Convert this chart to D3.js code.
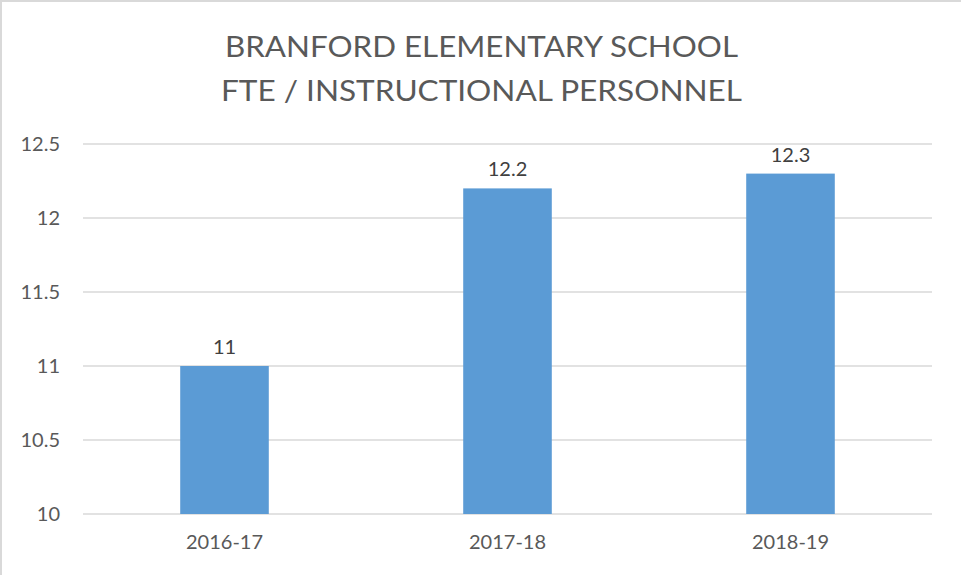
<!DOCTYPE html>
<html>
<head>
<meta charset="utf-8">
<script src="https://cdn.jsdelivr.net/npm/d3@7"></script>
<style>
  html, body { margin: 0; padding: 0; background: #fff; overflow: hidden; }
  svg { display: block; font-family: "Lato", "Open Sans", sans-serif; }
</style>
</head>
<body>
<div id="chart"></div>
<script>
// chart data
const categories = ["2016-17", "2017-18", "2018-19"];
const values = [11, 12.2, 12.3];
const yTicks = [10, 10.5, 11, 11.5, 12, 12.5];
const titleLines = ["BRANFORD ELEMENTARY SCHOOL", "FTE / INSTRUCTIONAL PERSONNEL"];
const titleWidths = [513, 521];

const width = 961, height = 575;
const margin = { top: 144, right: 29, bottom: 61, left: 83 };
const innerWidth = width - margin.left - margin.right;
const innerHeight = height - margin.top - margin.bottom;

const svg = d3.select("#chart")
  .append("svg")
  .attr("width", width)
  .attr("height", height);

// frame: only left and top edges are visible in the crop
svg.append("path")
  .attr("d", `M1,${height} V1 H${width}`)
  .attr("fill", "none")
  .attr("stroke", "#d9d9d9")
  .attr("stroke-width", 2);

// title
svg.append("g")
  .selectAll("text")
  .data(titleLines)
  .join("text")
  .attr("x", width / 2 + 1)
  .attr("y", (d, i) => 57 + i * 44)
  .attr("text-anchor", "middle")
  .attr("fill", "#595959")
  .attr("textLength", (d, i) => titleWidths[i])
  .attr("lengthAdjust", "spacingAndGlyphs")
  .style("font-size", "29px")
  .text(d => d);

const innerChart = svg.append("g")
  .attr("transform", `translate(${margin.left},${margin.top})`);

const xScale = d3.scaleBand()
  .domain(categories)
  .range([0, innerWidth])
  .paddingInner(0.687)
  .paddingOuter(0.3435);

const yScale = d3.scaleLinear()
  .domain([10, 12.5])
  .range([innerHeight, 0]);

// gridlines
innerChart.append("g")
  .selectAll("line")
  .data(yTicks)
  .join("line")
  .attr("x1", 0)
  .attr("x2", innerWidth)
  .attr("y1", d => yScale(d))
  .attr("y2", d => yScale(d))
  .attr("stroke", "#d9d9d9")
  .attr("stroke-width", 1.5);

// y axis labels
const yAxis = d3.axisLeft(yScale)
  .tickValues(yTicks)
  .tickFormat(d => d)
  .tickSize(0)
  .tickPadding(23);

innerChart.append("g")
  .call(yAxis)
  .call(g => g.select(".domain").remove())
  .call(g => g.selectAll("text")
    .attr("fill", "#595959")
    .style("font-size", "20px")
    .style("font-family", "Lato, 'Open Sans', sans-serif"));

// x axis labels
const xAxis = d3.axisBottom(xScale).tickSize(0).tickPadding(21);

innerChart.append("g")
  .attr("transform", `translate(0, ${innerHeight})`)
  .call(xAxis)
  .call(g => g.select(".domain").remove())
  .call(g => g.selectAll("text")
    .attr("fill", "#595959")
    .style("font-size", "20px")
    .style("font-family", "Lato, 'Open Sans', sans-serif"));

const rows = categories.map((c, i) => ({ category: c, value: values[i] }));

// bars
innerChart.selectAll(".bar")
  .data(rows)
  .join("rect")
  .attr("class", "bar")
  .attr("x", d => xScale(d.category))
  .attr("y", d => yScale(d.value))
  .attr("width", xScale.bandwidth())
  .attr("height", d => yScale(10) - yScale(d.value))
  .attr("fill", "#5b9bd5");

// data labels
innerChart.selectAll(".label")
  .data(rows)
  .join("text")
  .attr("class", "label")
  .attr("x", d => xScale(d.category) + xScale.bandwidth() / 2)
  .attr("y", d => yScale(d.value) - 12)
  .attr("text-anchor", "middle")
  .attr("fill", "#404040")
  .style("font-size", "20px")
  .text(d => d.value);
</script>
</body>
</html>
